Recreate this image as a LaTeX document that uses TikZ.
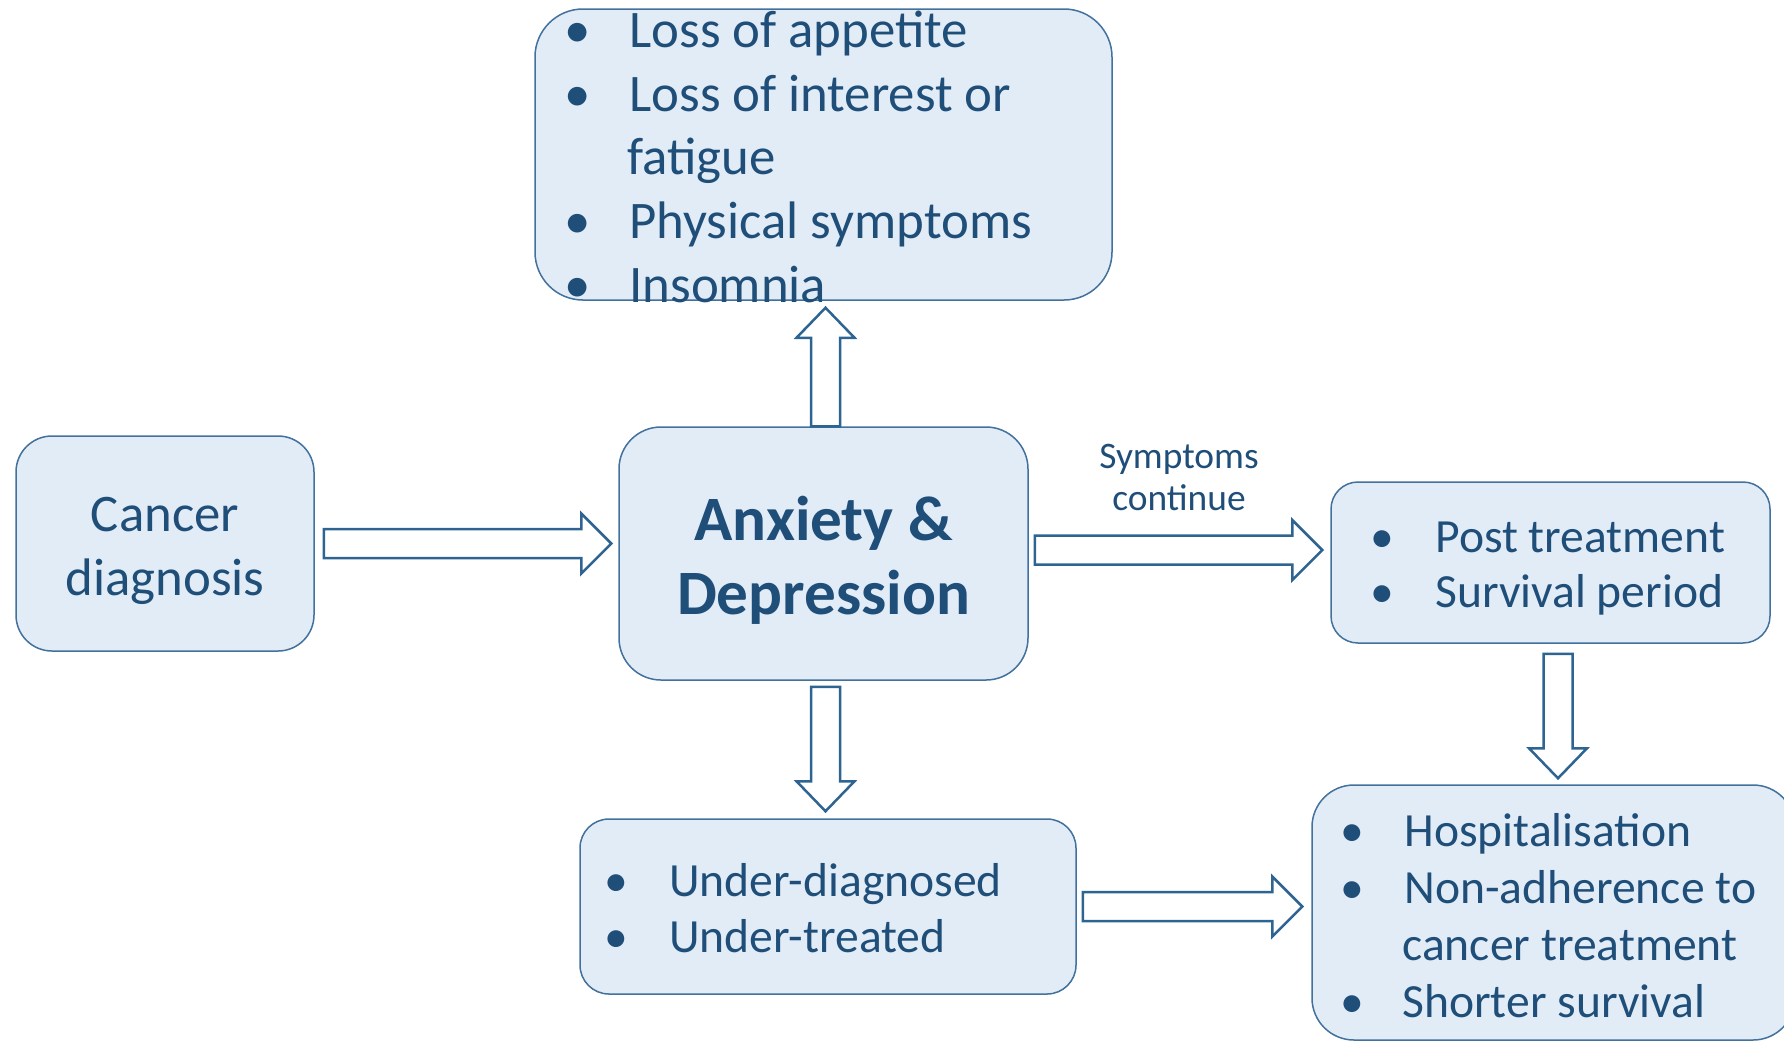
\documentclass[tikz,border=0pt]{standalone}
\usepackage{fontspec}
\setmainfont{Carlito}
\usetikzlibrary{calc}
\definecolor{boxfill}{RGB}{226,236,247}
\definecolor{boxline}{RGB}{65,113,156}
\definecolor{arrline}{RGB}{46,100,145}
\definecolor{txt}{RGB}{31,78,121}
\tikzset{
  box/.style={draw=boxline, fill=boxfill, line width=0.75pt, inner sep=0pt},
  tbig/.style={text=txt, inner sep=0pt, font=\fontsize{26.4}{32}\selectfont},
  tmid/.style={text=txt, inner sep=0pt, font=\fontsize{23.8}{29}\selectfont},
  tsmall/.style={text=txt, inner sep=0pt, font=\fontsize{18.7}{22}\selectfont},
  tbold/.style={text=txt, inner sep=0pt, font=\fontsize{31.6}{38}\selectfont\bfseries},
  barrow/.style={draw=arrline, fill=white, line width=1.25pt, line join=miter},
  rarrow/.style={barrow, to path={let \p1=(\tikztostart), \p2=(\tikztotarget) in
    (\x1,\y1+7.25pt) -- (\x2-15pt,\y1+7.25pt) -- (\x2-15pt,\y1+15pt) -- (\x2,\y1)
    -- (\x2-15pt,\y1-15pt) -- (\x2-15pt,\y1-7.25pt) -- (\x1,\y1-7.25pt) -- cycle}},
  darrow/.style={barrow, to path={let \p1=(\tikztostart), \p2=(\tikztotarget) in
    (\x1-7.25pt,\y1) -- (\x1-7.25pt,\y2+15pt) -- (\x1-14.5pt,\y2+15pt) -- (\x1,\y2)
    -- (\x1+14.5pt,\y2+15pt) -- (\x1+7.25pt,\y2+15pt) -- (\x1+7.25pt,\y1) -- cycle}},
  uarrow/.style={barrow, to path={let \p1=(\tikztostart), \p2=(\tikztotarget) in
    (\x1-7.25pt,\y1) -- (\x1-7.25pt,\y2-15pt) -- (\x1-14.5pt,\y2-15pt) -- (\x1,\y2)
    -- (\x1+14.5pt,\y2-15pt) -- (\x1+7.25pt,\y2-15pt) -- (\x1+7.25pt,\y1) -- cycle}},
}
\begin{document}
\begin{tikzpicture}[x=0.5pt,y=-0.5pt]
\useasboundingbox (0,0) rectangle (1784,1041);
\clip (0,0) rectangle (1784,1041);

% boxes
\node[box, rounded corners=18pt, minimum width=149pt, minimum height=107.5pt] (cancer) at (165,543.5) {};
\node[box, rounded corners=24pt, minimum width=288.5pt, minimum height=145.5pt] (top) at (823.5,154.5) {};
\node[box, rounded corners=21pt, minimum width=204.5pt, minimum height=126.5pt] (anx) at (823.5,553.5) {};
\node[box, rounded corners=13.5pt, minimum width=219.5pt, minimum height=80.5pt] (post) at (1550.5,562.5) {};
\node[box, rounded corners=14.5pt, minimum width=248pt, minimum height=87.5pt] (under) at (828,906.5) {};
\node[box, rounded corners=21pt, minimum width=241.5pt, minimum height=127.5pt] (hosp) at (1553.5,912.5) {};

% arrows
\coordinate (a1s) at ([xshift=4.5pt]cancer.east);
\coordinate (a1x) at (a1s -| anx.west);
\draw[rarrow] (a1s) to ([xshift=-3.5pt]a1x);

\coordinate (a2s) at ([shift={(6,-3.5)}]anx.east);
\coordinate (a2x) at (a2s -| post.west);
\draw[rarrow] (a2s) to ([xshift=-4pt]a2x);

\coordinate (a3s) at ([xshift=1pt]anx.north);
\coordinate (a3x) at (a3s |- top.south);
\draw[uarrow] (a3s) to ([yshift=-3.5pt]a3x);

\coordinate (a4s) at ([shift={(2,6)}]anx.south);
\coordinate (a4x) at (a4s |- under.north);
\draw[darrow] (a4s) to ([yshift=3.5pt]a4x);

\coordinate (a5s) at ([shift={(7.5,10)}]post.south);
\coordinate (a5x) at (a5s |- hosp.north);
\draw[darrow] (a5s) to ([yshift=3pt]a5x);

\coordinate (a6s) at ([xshift=3pt]under.east);
\coordinate (a6x) at (a6s -| hosp.west);
\draw[rarrow] (a6s) to ([xshift=-4.5pt]a6x);

% texts
\node[tbig, anchor=base] (c1) at (165,531) {Cancer};
\node[tbig, anchor=base] (c2) at (165,595) {diagnosis};

\node[tbig, anchor=base] (tb1) at (578,47) {•};
\node[tbig, anchor=base west] (tt1) at (629,47) {Loss of appetite};
\node[tbig, anchor=base] (tb2) at (578,111) {•};
\node[tbig, anchor=base west] (tt2) at (629,111) {Loss of interest or};
\node[tbig, anchor=base west] (tt3) at (627,174) {fatigue};
\node[tbig, anchor=base] (tb4) at (578,238) {•};
\node[tbig, anchor=base west] (tt4) at (629,238) {Physical symptoms};
\node[tbig, anchor=base] (tb5) at (578,302) {•};
\node[tbig, anchor=base west] (tt5) at (629,302) {Insomnia};

\node[tbold, anchor=base] (x1) at (823.5,540) {Anxiety \&};
\node[tbold, anchor=base] (x2) at (823.5,614) {Depression};

\node[tsmall, anchor=base] (s1) at (1179,468) {Symptoms};
\node[tsmall, anchor=base] (s2) at (1179,510) {continue};

\node[tmid, anchor=base] (pb1) at (1382,552) {•};
\node[tmid, anchor=base west] (pt1) at (1435,552) {Post treatment};
\node[tmid, anchor=base] (pb2) at (1382,607) {•};
\node[tmid, anchor=base west] (pt2) at (1435,607) {Survival period};

\node[tmid, anchor=base] (ub1) at (616,896) {•};
\node[tmid, anchor=base west] (ut1) at (669,896) {Under-diagnosed};
\node[tmid, anchor=base] (ub2) at (616,952) {•};
\node[tmid, anchor=base west] (ut2) at (669,952) {Under-treated};

\node[tmid, anchor=base] (hb1) at (1352,846) {•};
\node[tmid, anchor=base west] (ht1) at (1404,846) {Hospitalisation};
\node[tmid, anchor=base] (hb2) at (1352,903) {•};
\node[tmid, anchor=base west] (ht2) at (1404,903) {Non-adherence to};
\node[tmid, anchor=base west] (ht3) at (1402,960) {cancer treatment};
\node[tmid, anchor=base] (hb4) at (1352,1017) {•};
\node[tmid, anchor=base west] (ht4) at (1402,1017) {Shorter survival};
\end{tikzpicture}
\end{document}
